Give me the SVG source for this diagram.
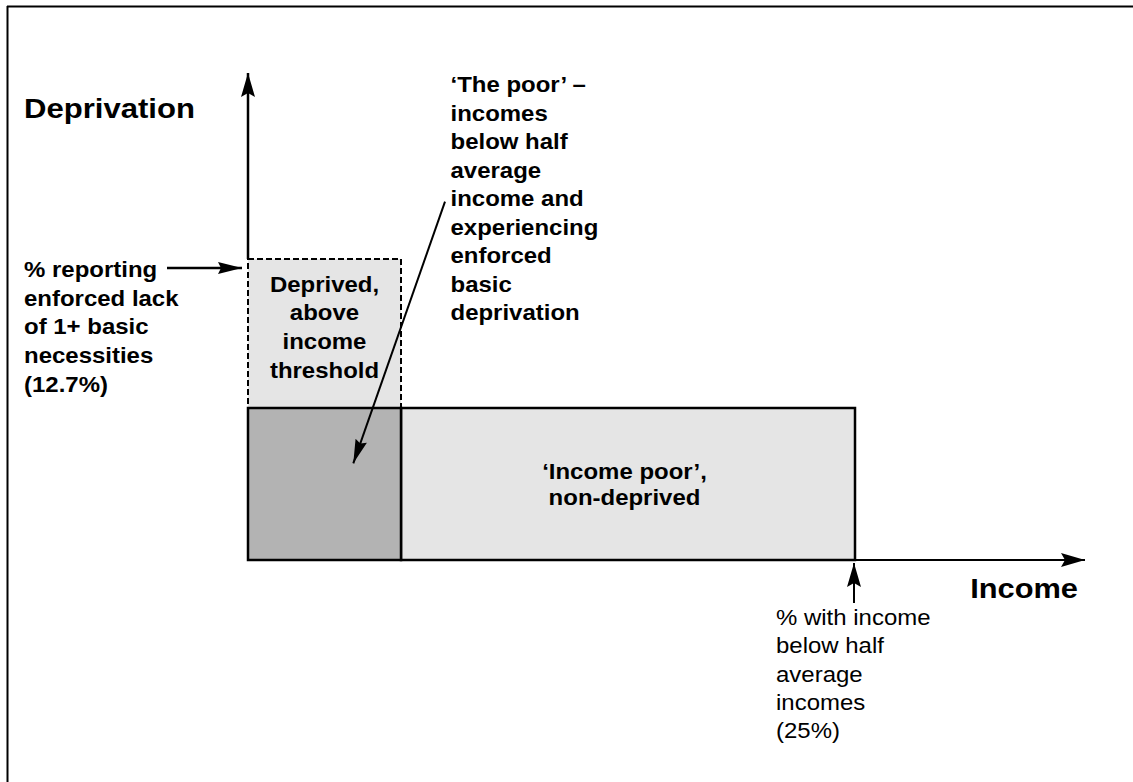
<svg xmlns="http://www.w3.org/2000/svg" width="1133" height="782" viewBox="0 0 1133 782">
  <style>
    .lbl { font-family: "Liberation Sans", Arial, sans-serif; font-size: 22px; font-weight: bold; fill: #000; }
    .reg { font-family: "Liberation Sans", Arial, sans-serif; font-size: 22px; font-weight: normal; fill: #000; }
    .title { font-family: "Liberation Sans", Arial, sans-serif; font-size: 28px; font-weight: bold; fill: #000; }
    .mid { text-anchor: middle; }
    .end { text-anchor: end; }
    .line { stroke: #000; stroke-width: 2.5; fill: none; }
    .thin { stroke: #000; stroke-width: 2; fill: none; }
  </style>
  <defs>
    <marker id="head" markerUnits="userSpaceOnUse" markerWidth="26" markerHeight="16" refX="24" refY="7" orient="auto">
      <path d="M0,0 L24,7 L0,14 L4,7 z" fill="#000"/>
    </marker>
    <marker id="headSmall" markerUnits="userSpaceOnUse" markerWidth="26" markerHeight="14" refX="24" refY="6" orient="auto">
      <path d="M0,0 L24,6 L0,12 L3,6 z" fill="#000"/>
    </marker>
  </defs>

  <rect width="1133" height="782" fill="#fff"/>

  <!-- page frame (top and left edges only) -->
  <g id="frame">
    <line x1="7" y1="6.5" x2="1133" y2="6.5" class="thin"/>
    <line x1="7.5" y1="6" x2="7.5" y2="782" class="thin"/>
  </g>

  <!-- region boxes -->
  <g id="deprived-above-threshold">
    <rect x="248" y="259" width="153" height="149" fill="#e5e5e5" stroke="#000" stroke-width="2" stroke-dasharray="6 3"/>
    <text class="lbl mid" transform="translate(324.5 291.5) scale(1.09 1)">Deprived,</text>
    <text class="lbl mid" transform="translate(324.5 320.2) scale(1.09 1)">above</text>
    <text class="lbl mid" transform="translate(324.5 348.9) scale(1.09 1)">income</text>
    <text class="lbl mid" transform="translate(324.5 377.6) scale(1.09 1)">threshold</text>
  </g>

  <g id="income-poor">
    <rect x="401" y="408" width="454" height="152" fill="#e5e5e5" stroke="#000" stroke-width="2.5"/>
    <text class="lbl mid" transform="translate(624.5 479) scale(1.09 1)">‘Income poor’,</text>
    <text class="lbl mid" transform="translate(624.5 505) scale(1.09 1)">non-deprived</text>
  </g>

  <g id="poor-box">
    <rect x="248" y="408" width="153" height="152" fill="#b3b3b3" stroke="#000" stroke-width="2.5"/>
  </g>

  <!-- axis titles -->
  <g id="axis-deprivation">
    <text class="title" transform="translate(24 118) scale(1.11 1)">Deprivation</text>
  </g>
  <g id="axis-income">
    <text class="title end" transform="translate(1078 598) scale(1.1 1)">Income</text>
  </g>

  <!-- annotations -->
  <g id="note-deprivation-rate">
    <text class="lbl" transform="translate(24 277) scale(1.09 1)">% reporting</text>
    <text class="lbl" transform="translate(24 305.7) scale(1.09 1)">enforced lack</text>
    <text class="lbl" transform="translate(24 334.4) scale(1.09 1)">of 1+ basic</text>
    <text class="lbl" transform="translate(24 363.1) scale(1.09 1)">necessities</text>
    <text class="lbl" transform="translate(24 391.8) scale(1.09 1)">(12.7%)</text>
  </g>

  <g id="note-the-poor">
    <text class="lbl" transform="translate(450.5 92) scale(1.09 1)">‘The poor’ –</text>
    <text class="lbl" transform="translate(450.5 120.5) scale(1.09 1)">incomes</text>
    <text class="lbl" transform="translate(450.5 149.1) scale(1.09 1)">below half</text>
    <text class="lbl" transform="translate(450.5 177.6) scale(1.09 1)">average</text>
    <text class="lbl" transform="translate(450.5 206.2) scale(1.09 1)">income and</text>
    <text class="lbl" transform="translate(450.5 234.7) scale(1.09 1)">experiencing</text>
    <text class="lbl" transform="translate(450.5 263.3) scale(1.09 1)">enforced</text>
    <text class="lbl" transform="translate(450.5 291.8) scale(1.09 1)">basic</text>
    <text class="lbl" transform="translate(450.5 320.4) scale(1.09 1)">deprivation</text>
  </g>

  <g id="note-income-rate">
    <text class="reg" transform="translate(776 625) scale(1.09 1)">% with income</text>
    <text class="reg" transform="translate(776 653.3) scale(1.09 1)">below half</text>
    <text class="reg" transform="translate(776 681.6) scale(1.09 1)">average</text>
    <text class="reg" transform="translate(776 709.9) scale(1.09 1)">incomes</text>
    <text class="reg" transform="translate(776 738.2) scale(1.09 1)">(25%)</text>
  </g>

  <!-- axes and pointers -->
  <g id="connectors">
    <line x1="248" y1="259" x2="248" y2="73" class="line" marker-end="url(#head)"/>
    <line x1="248" y1="560" x2="1085" y2="560" class="thin" marker-end="url(#head)"/>
    <line x1="167" y1="268" x2="242" y2="268" class="line" marker-end="url(#headSmall)"/>
    <line x1="854" y1="603" x2="854" y2="563" class="thin" marker-end="url(#head)"/>
    <line x1="445" y1="201.7" x2="353.3" y2="463.3" class="thin" marker-end="url(#headSmall)"/>
  </g>
</svg>
